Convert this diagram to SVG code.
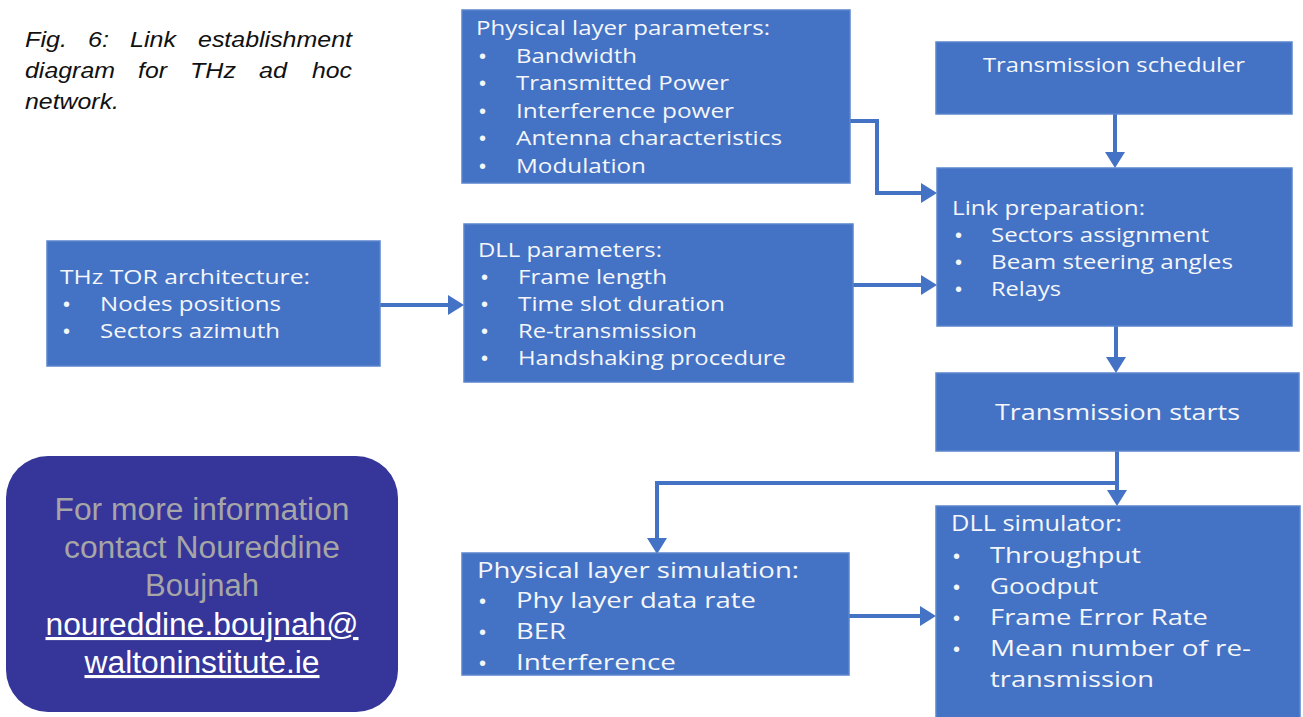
<svg xmlns="http://www.w3.org/2000/svg" width="1303" height="717" viewBox="0 0 1303 717">
<style>
.box{fill:#4472C4;stroke:#5A84CC;stroke-width:1.5}
.t{font-family:"Open Sans","Noto Sans",sans-serif;font-size:20px;fill:#F4F6FA}
.t2{font-family:"Open Sans","Noto Sans",sans-serif;font-size:21px;fill:#F4F6FA}
.b{font-family:"Liberation Sans",Arial,sans-serif;font-size:20px;fill:#F4F6FA}
.cap{font-family:"Liberation Sans",Arial,sans-serif;font-style:italic;font-size:22px;fill:#111}
.ct{font-family:"Liberation Sans",Arial,sans-serif;font-size:31px;fill:#A6A6A6;text-anchor:middle}
.cl{font-family:"Liberation Sans",Arial,sans-serif;font-size:31px;fill:#FFFFFF;text-anchor:middle;text-decoration:underline}
.c{fill:none;stroke:#4472C4;stroke-width:4}
</style>
<defs>
<marker id="ah" markerUnits="userSpaceOnUse" markerWidth="16" markerHeight="20" refX="0" refY="10" orient="auto">
<path d="M0,0 L16,10 L0,20 z" fill="#4472C4"/>
</marker>
</defs>
<rect width="1303" height="717" fill="#FFFFFF"/>

<g id="caption">
<text class="cap" x="25" y="47" textLength="42" lengthAdjust="spacingAndGlyphs">Fig.</text>
<text class="cap" x="88" y="47" textLength="21" lengthAdjust="spacingAndGlyphs">6:</text>
<text class="cap" x="130" y="47" textLength="46" lengthAdjust="spacingAndGlyphs">Link</text>
<text class="cap" x="198" y="47" textLength="154" lengthAdjust="spacingAndGlyphs">establishment</text>
<text class="cap" x="25" y="78" textLength="90" lengthAdjust="spacingAndGlyphs">diagram</text>
<text class="cap" x="138" y="78" textLength="29" lengthAdjust="spacingAndGlyphs">for</text>
<text class="cap" x="190" y="78" textLength="46" lengthAdjust="spacingAndGlyphs">THz</text>
<text class="cap" x="259" y="78" textLength="28" lengthAdjust="spacingAndGlyphs">ad</text>
<text class="cap" x="312" y="78" textLength="40" lengthAdjust="spacingAndGlyphs">hoc</text>
<text class="cap" x="25" y="109" textLength="94" lengthAdjust="spacingAndGlyphs">network.</text>
</g>

<g id="connectors">
<path class="c" d="M850,121 H877 V193 H921" marker-end="url(#ah)"/>
<path class="c" d="M1115,114 V152" marker-end="url(#ah)"/>
<path class="c" d="M380,305 H448" marker-end="url(#ah)"/>
<path class="c" d="M853,285 H921" marker-end="url(#ah)"/>
<path class="c" d="M1116,326 V357" marker-end="url(#ah)"/>
<path class="c" d="M1117,451 V490" marker-end="url(#ah)"/>
<path class="c" d="M1117,483 H657 V538" marker-end="url(#ah)"/>
<path class="c" d="M849,616 H920" marker-end="url(#ah)"/>
</g>

<g id="phy-params">
<rect class="box" x="462" y="10" width="388" height="173"/>
<text class="t" x="476" y="35" textLength="294" lengthAdjust="spacingAndGlyphs">Physical layer parameters:</text>
<text class="b" x="479" y="63">•</text><text class="t" x="516" y="63" textLength="121" lengthAdjust="spacingAndGlyphs">Bandwidth</text>
<text class="b" x="479" y="90">•</text><text class="t" x="516" y="90" textLength="213" lengthAdjust="spacingAndGlyphs">Transmitted Power</text>
<text class="b" x="479" y="118">•</text><text class="t" x="516" y="118" textLength="218" lengthAdjust="spacingAndGlyphs">Interference power</text>
<text class="b" x="479" y="145">•</text><text class="t" x="516" y="145" textLength="266" lengthAdjust="spacingAndGlyphs">Antenna characteristics</text>
<text class="b" x="479" y="173">•</text><text class="t" x="516" y="173" textLength="130" lengthAdjust="spacingAndGlyphs">Modulation</text>
</g>

<g id="scheduler">
<rect class="box" x="936" y="42" width="356" height="72"/>
<text class="t" x="983" y="72" textLength="262" lengthAdjust="spacingAndGlyphs">Transmission scheduler</text>
</g>

<g id="link-prep">
<rect class="box" x="937" y="168" width="355" height="158"/>
<text class="t" x="952" y="215" textLength="193" lengthAdjust="spacingAndGlyphs">Link preparation:</text>
<text class="b" x="955" y="242">•</text><text class="t" x="991" y="242" textLength="218" lengthAdjust="spacingAndGlyphs">Sectors assignment</text>
<text class="b" x="955" y="269">•</text><text class="t" x="991" y="269" textLength="242" lengthAdjust="spacingAndGlyphs">Beam steering angles</text>
<text class="b" x="955" y="296">•</text><text class="t" x="991" y="296" textLength="70" lengthAdjust="spacingAndGlyphs">Relays</text>
</g>

<g id="tor">
<rect class="box" x="47" y="241" width="333" height="125"/>
<text class="t" x="60" y="284" textLength="250" lengthAdjust="spacingAndGlyphs">THz TOR architecture:</text>
<text class="b" x="63" y="311">•</text><text class="t" x="100" y="311" textLength="181" lengthAdjust="spacingAndGlyphs">Nodes positions</text>
<text class="b" x="63" y="338">•</text><text class="t" x="100" y="338" textLength="180" lengthAdjust="spacingAndGlyphs">Sectors azimuth</text>
</g>

<g id="dll-params">
<rect class="box" x="464" y="224" width="389" height="158"/>
<text class="t" x="478" y="257" textLength="184" lengthAdjust="spacingAndGlyphs">DLL parameters:</text>
<text class="b" x="481" y="284">•</text><text class="t" x="518" y="284" textLength="149" lengthAdjust="spacingAndGlyphs">Frame length</text>
<text class="b" x="481" y="311">•</text><text class="t" x="518" y="311" textLength="207" lengthAdjust="spacingAndGlyphs">Time slot duration</text>
<text class="b" x="481" y="338">•</text><text class="t" x="518" y="338" textLength="179" lengthAdjust="spacingAndGlyphs">Re-transmission</text>
<text class="b" x="481" y="365">•</text><text class="t" x="518" y="365" textLength="268" lengthAdjust="spacingAndGlyphs">Handshaking procedure</text>
</g>

<g id="tx-starts">
<rect class="box" x="936" y="373" width="363" height="78"/>
<text class="t" x="995" y="420" style="font-size:22px" textLength="245" lengthAdjust="spacingAndGlyphs">Transmission starts</text>
</g>

<g id="phy-sim">
<rect class="box" x="462" y="553" width="387" height="122"/>
<text class="t2" x="477" y="578" textLength="322" lengthAdjust="spacingAndGlyphs">Physical layer simulation:</text>
<text class="b" x="479" y="608">•</text><text class="t2" x="516" y="608" textLength="240" lengthAdjust="spacingAndGlyphs">Phy layer data rate</text>
<text class="b" x="479" y="639">•</text><text class="t2" x="516" y="639" textLength="50" lengthAdjust="spacingAndGlyphs">BER</text>
<text class="b" x="479" y="670">•</text><text class="t2" x="516" y="670" textLength="160" lengthAdjust="spacingAndGlyphs">Interference</text>
</g>

<g id="dll-sim">
<rect class="box" x="936" y="506" width="364" height="214"/>
<text class="t2" x="951" y="531" textLength="171" lengthAdjust="spacingAndGlyphs">DLL simulator:</text>
<text class="b" x="953" y="563">•</text><text class="t2" x="990" y="563" textLength="151" lengthAdjust="spacingAndGlyphs">Throughput</text>
<text class="b" x="953" y="594">•</text><text class="t2" x="990" y="594" textLength="108" lengthAdjust="spacingAndGlyphs">Goodput</text>
<text class="b" x="953" y="625">•</text><text class="t2" x="990" y="625" textLength="218" lengthAdjust="spacingAndGlyphs">Frame Error Rate</text>
<text class="b" x="953" y="656">•</text><text class="t2" x="990" y="656" textLength="261" lengthAdjust="spacingAndGlyphs">Mean number of re-</text>
<text class="t2" x="990" y="687" textLength="164" lengthAdjust="spacingAndGlyphs">transmission</text>
</g>

<g id="contact">
<rect x="6" y="456" width="392" height="256" rx="42" ry="42" fill="#35359A"/>
<text class="ct" x="202" y="520" textLength="295" lengthAdjust="spacingAndGlyphs">For more information</text>
<text class="ct" x="202" y="558" textLength="276" lengthAdjust="spacingAndGlyphs">contact Noureddine</text>
<text class="ct" x="202" y="596">Boujnah</text>
<text class="cl" x="202" y="635" textLength="313" lengthAdjust="spacingAndGlyphs">noureddine.boujnah@</text>
<text class="cl" x="202" y="673" textLength="235" lengthAdjust="spacingAndGlyphs">waltoninstitute.ie</text>
</g>
</svg>
